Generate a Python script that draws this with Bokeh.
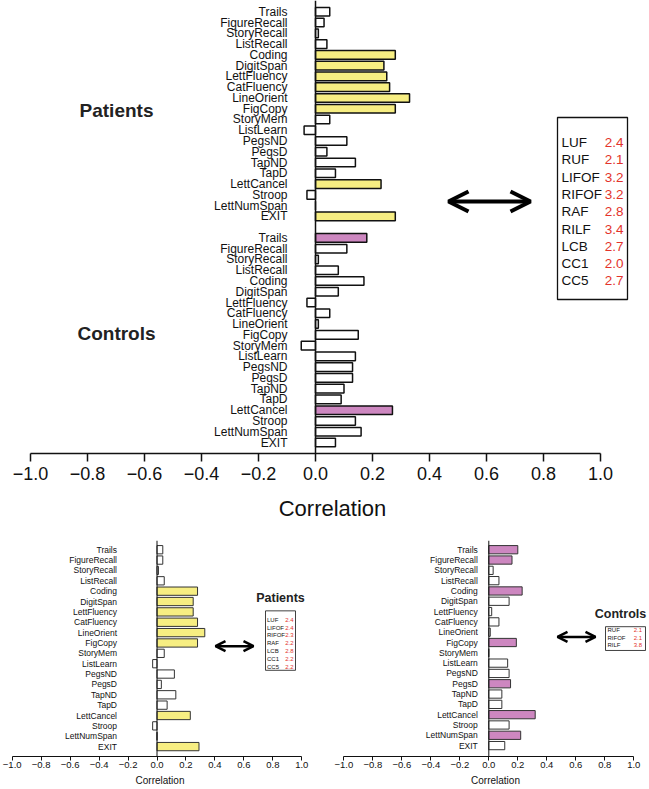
from bokeh.plotting import figure
from bokeh.models import (ColumnDataSource, Span, FixedTicker, CustomJSTickFormatter,
                          Arrow, OpenHead, BoxAnnotation, Range1d)
from bokeh.layouts import column, row
from bokeh.core.properties import value
from bokeh.embed import file_html
from bokeh.resources import INLINE

# ---------------- data ----------------
tests = ["Trails", "FigureRecall", "StoryRecall", "ListRecall", "Coding", "DigitSpan",
         "LettFluency", "CatFluency", "LineOrient", "FigCopy", "StoryMem", "ListLearn",
         "PegsND", "PegsD", "TapND", "TapD", "LettCancel", "Stroop", "LettNumSpan", "EXIT"]

top_patients = [0.05, 0.03, 0.01, 0.04, 0.28, 0.24, 0.25, 0.26, 0.33, 0.28,
                0.05, -0.04, 0.11, 0.04, 0.14, 0.07, 0.23, -0.03, 0.0, 0.28]
top_patients_sig = [0, 0, 0, 0, 1, 1, 1, 1, 1, 1, 0, 0, 0, 0, 0, 0, 1, 0, 0, 1]
top_controls = [0.18, 0.11, 0.01, 0.08, 0.17, 0.08, -0.03, 0.05, 0.01, 0.15,
                -0.05, 0.14, 0.13, 0.13, 0.10, 0.09, 0.27, 0.14, 0.16, 0.07]
top_controls_sig = [1, 0, 0, 0, 0, 0, 0, 0, 0, 0, 0, 0, 0, 0, 0, 0, 1, 0, 0, 0]

bl_patients = [0.04, 0.04, 0.01, 0.05, 0.28, 0.25, 0.25, 0.28, 0.33, 0.28,
               0.05, -0.03, 0.12, 0.03, 0.13, 0.07, 0.23, -0.03, 0.0, 0.29]
bl_patients_sig = [0, 0, 0, 0, 1, 1, 1, 1, 1, 1, 0, 0, 0, 0, 0, 0, 1, 0, 0, 1]
br_controls = [0.20, 0.16, 0.03, 0.07, 0.23, 0.14, 0.02, 0.07, 0.01, 0.19,
               0.0, 0.13, 0.14, 0.15, 0.09, 0.09, 0.32, 0.14, 0.22, 0.11]
br_controls_sig = [1, 1, 0, 0, 1, 0, 0, 0, 0, 1, 0, 0, 0, 1, 0, 0, 1, 0, 1, 0]

top_regions = ["LUF", "RUF", "LIFOF", "RIFOF", "RAF", "RILF", "LCB", "CC1", "CC5"]
top_region_vals = [2.4, 2.1, 3.2, 3.2, 2.8, 3.4, 2.7, 2.0, 2.7]
bl_regions = ["LUF", "LIFOF", "RIFOF", "RAF", "LCB", "CC1", "CC5"]
bl_region_vals = [2.4, 2.4, 2.3, 2.2, 2.8, 2.2, 2.2]
br_regions = ["RUF", "RIFOF", "RILF"]
br_region_vals = [2.1, 2.1, 3.8]

x_ticks = [-1.0, -0.8, -0.6, -0.4, -0.2, 0.0, 0.2, 0.4, 0.6, 0.8, 1.0]

# ---------------- styling ----------------
FONT = "Liberation Sans"
YELLOW = "#F7EE82"
PURPLE = "#CD87C0"
RED = "#E3332B"


class Panel:
    """Maps reference-picture pixels (page pixels) to data units for one figure."""

    def __init__(self, W, H, x0, y0, L, R, T, B, xzero, xunit, yfirst, nrows_top, yrow):
        self.W, self.H, self.x0, self.y0 = W, H, x0, y0
        self.xzero, self.xunit, self.yfirst, self.ntop, self.yrow = xzero, xunit, yfirst, nrows_top, yrow
        self.L, self.R, self.T, self.B = L, R, T, B

    def dx(self, xr):
        return (xr - self.xzero) / self.xunit

    def dy(self, yr):
        return self.ntop - (yr - self.yfirst) / self.yrow

    def make(self, axis_font, label_font, tick_out, lab_standoff, ax_standoff, axis_lw):
        xs = self.dx(self.x0 + self.L)
        xe = self.dx(self.x0 + self.R)
        yt = self.dy(self.y0 + self.T)
        yb = self.dy(self.y0 + self.B)
        p = figure(width=self.W, height=self.H, x_range=Range1d(xs, xe), y_range=Range1d(yb, yt),
                   output_backend="svg", toolbar_location=None, y_axis_location=None,
                   min_border_left=self.L, min_border_right=self.W - self.R,
                   min_border_top=self.T, min_border_bottom=self.H - self.B)
        p.outline_line_color = None
        p.xgrid.visible = False
        p.ygrid.visible = False
        ax = p.xaxis[0]
        ax.ticker = FixedTicker(ticks=x_ticks)
        ax.formatter = CustomJSTickFormatter(
            code="return (tick < -1e-9 ? '\\u2212' : '') + Math.abs(tick).toFixed(1);")
        ax.bounds = (-1, 1)
        ax.minor_tick_line_color = None
        ax.major_tick_in = 0
        ax.major_tick_out = tick_out
        ax.major_label_standoff = lab_standoff
        ax.axis_label = "Correlation"
        ax.axis_label_standoff = ax_standoff
        ax.axis_label_text_font = FONT
        ax.axis_label_text_font_style = "normal"
        ax.axis_label_text_font_size = label_font
        ax.major_label_text_font = FONT
        ax.major_label_text_font_size = axis_font
        ax.axis_line_width = axis_lw
        ax.major_tick_line_width = axis_lw
        ax.axis_line_color = "#111111"
        ax.major_tick_line_color = "#111111"
        ax.major_label_text_color = "#111111"
        ax.axis_label_text_color = "#111111"
        p.add_layout(Span(location=0, dimension="height", line_color="#111111", line_width=axis_lw))
        return p


def bars(p, ys, vals, sig, hi_color, lw, line_color):
    src = ColumnDataSource(dict(y=ys, v=vals, c=[hi_color if s else "white" for s in sig]))
    p.hbar(y="y", left=0, right="v", height=0.8, fill_color="c", line_color=line_color,
           line_width=lw, source=src)


def ylabels(p, ys, names, offset, size):
    src = ColumnDataSource(dict(x=[0] * len(ys), y=ys, t=names))
    p.text(x="x", y="y", text="t", source=src, x_offset=offset, text_align="right",
           text_baseline="middle", text_font=value(FONT), text_font_size=size, text_color="#111111")


def legend_box(panel, p, regions, vals, box, rows, lab_x, val_x, size, lw):
    l, r, t, b = box
    p.add_layout(BoxAnnotation(left=panel.dx(l), right=panel.dx(r), top=panel.dy(t), bottom=panel.dy(b),
                               fill_color=None, line_color="#111111", line_width=lw, line_alpha=1))
    y0, step = rows
    ys = [panel.dy(y0 + step * k) for k in range(len(regions))]
    s1 = ColumnDataSource(dict(x=[panel.dx(lab_x)] * len(ys), y=ys, t=regions))
    p.text(x="x", y="y", text="t", source=s1, text_align="left", text_baseline="middle",
           text_font=value(FONT), text_font_size=size, text_color="#111111")
    s2 = ColumnDataSource(dict(x=[panel.dx(val_x)] * len(ys), y=ys, t=["%.1f" % v for v in vals]))
    p.text(x="x", y="y", text="t", source=s2, text_align="right", text_baseline="middle",
           text_font=value(FONT), text_font_size=size, text_color=RED)


def title(panel, p, txt, xr, yr, size):
    src = ColumnDataSource(dict(x=[panel.dx(xr)], y=[panel.dy(yr)], t=[txt]))
    p.text(x="x", y="y", text="t", source=src, text_align="center", text_baseline="middle",
           text_font=value(FONT), text_font_style="bold", text_font_size=size, text_color="#222222")


def arrow(panel, p, x1, x2, yr, size, lw):
    p.add_layout(Arrow(start=OpenHead(size=size, line_width=lw), end=OpenHead(size=size, line_width=lw),
                       x_start=panel.dx(x1), x_end=panel.dx(x2), y_start=panel.dy(yr), y_end=panel.dy(yr),
                       line_width=lw, line_color="black"))


n = len(tests)

# ---------------- top panel ----------------
top = Panel(W=647, H=537, x0=0, y0=0, L=29, R=635, T=0, B=453,
            xzero=315, xunit=285, yfirst=11.3, nrows_top=40, yrow=(442 - 11.3) / 40)
pt = top.make(axis_font="18px", label_font="22px", tick_out=8, lab_standoff=5, ax_standoff=13, axis_lw=1.5)
ys_pat = [40 - i for i in range(n)]
ys_con = [19 - i for i in range(n)]
bars(pt, ys_pat, top_patients, top_patients_sig, YELLOW, 1.5, "#111111")
bars(pt, ys_con, top_controls, top_controls_sig, PURPLE, 1.5, "#111111")
ylabels(pt, ys_pat, tests, -28, "12px")
ylabels(pt, ys_con, tests, -28, "12px")
title(top, pt, "Patients", 116, 110, "19px")
title(top, pt, "Controls", 116, 333, "19px")
arrow(top, pt, 448, 530, 201, 20, 4)
legend_box(top, pt, top_regions, top_region_vals, (557, 627, 117, 299), (142, 17.3), 561, 623, "13.5px", 1.3)

# ---------------- bottom-left panel ----------------
bl = Panel(W=316, H=251, x0=0, y0=537, L=11, R=308, T=3, B=221,
           xzero=156.5, xunit=144.8, yfirst=549.3, nrows_top=19, yrow=(748 - 549.3) / 19)
pl = bl.make(axis_font="9.5px", label_font="10px", tick_out=4, lab_standoff=1, ax_standoff=4, axis_lw=1)
ys_b = [19 - i for i in range(n)]
bars(pl, ys_b, bl_patients, bl_patients_sig, YELLOW, 1, "#333333")
ylabels(pl, ys_b, tests, -40, "8.5px")
title(bl, pl, "Patients", 280, 598, "12.5px")
arrow(bl, pl, 215, 253, 646.7, 10, 2.5)
legend_box(bl, pl, bl_regions, bl_region_vals, (265, 295, 611, 671), (620, 7.9), 266.5, 293, "6px", 0.8)

# ---------------- bottom-right panel ----------------
br = Panel(W=331, H=251, x0=316, y0=537, L=27, R=331, T=3, B=221,
           xzero=488.3, xunit=145, yfirst=549.3, nrows_top=19, yrow=(747 - 549.3) / 19)
pr = br.make(axis_font="9.5px", label_font="10px", tick_out=4, lab_standoff=1, ax_standoff=4, axis_lw=1)
bars(pr, ys_b, br_controls, br_controls_sig, PURPLE, 1, "#333333")
ylabels(pr, ys_b, tests, -11, "8.5px")
title(br, pr, "Controls", 620, 614, "12.5px")
arrow(br, pr, 557, 595, 637.3, 10, 2.5)
legend_box(br, pr, br_regions, br_region_vals, (605, 645, 627, 651), (630.5, 7.4), 607, 641.5, "6px", 0.8)

layout = column(pt, row(pl, pr, spacing=0), spacing=0)
open("out.html", "w").write(file_html(layout, INLINE))
